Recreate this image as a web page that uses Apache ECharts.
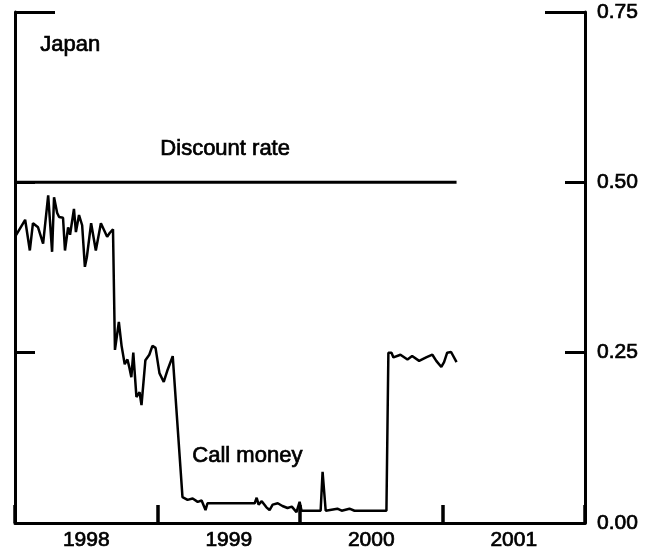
<!DOCTYPE html>
<html>
<head>
<meta charset="utf-8">
<script src="https://cdn.jsdelivr.net/npm/echarts@6/dist/echarts.min.js"></script>
<style>html,body{margin:0;padding:0;background:#fff}#c{width:660px;height:556px}</style>
</head>
<body>
<div id="c"></div>
<script>
const callDates = ['1998-01-01','1998-01-06','1998-01-27','1998-02-01','1998-02-08','1998-02-16','1998-03-01','1998-03-14','1998-03-27','1998-04-01','1998-04-06','1998-04-11','1998-04-19','1998-04-24','1998-05-04','1998-05-09','1998-05-17','1998-05-22','1998-06-01','1998-06-06','1998-06-14','1998-06-22','1998-06-29','1998-07-04','1998-07-15','1998-07-27','1998-08-09','1998-08-25','1998-09-01','1998-09-09','1998-09-14','1998-09-24','1998-10-01','1998-10-09','1998-10-16','1998-10-21','1998-10-26','1998-10-31','1998-11-08','1998-11-16','1998-11-21','1998-12-01','1998-12-11','1998-12-19','1998-12-27','1999-01-06','1999-01-17','1999-01-27','1999-02-09','1999-03-06','1999-03-19','1999-04-01','1999-04-14','1999-04-24','1999-05-04','1999-05-09','1999-09-07','1999-09-12','1999-09-17','1999-09-25','1999-10-07','1999-10-15','1999-10-23','1999-11-05','1999-11-17','1999-11-30','1999-12-11','1999-12-23','1999-12-31','2000-01-05','2000-02-23','2000-02-28','2000-03-07','2000-04-06','2000-04-17','2000-05-07','2000-05-20','2000-08-10','2000-08-15','2000-08-23','2000-08-28','2000-09-15','2000-10-03','2000-10-15','2000-11-02','2000-11-20','2000-12-06','2000-12-16','2000-12-29','2001-01-05','2001-01-13','2001-01-23','2001-02-06'];
const callMoney = [0.42,0.418,0.445,0.446,0.40,0.44,0.434,0.41,0.481,0.481,0.398,0.478,0.455,0.449,0.448,0.40,0.434,0.423,0.461,0.427,0.452,0.437,0.376,0.39,0.44,0.40,0.44,0.42,0.426,0.431,0.254,0.295,0.26,0.233,0.24,0.228,0.214,0.25,0.185,0.192,0.173,0.239,0.247,0.26,0.257,0.22,0.207,0.225,0.245,0.038,0.034,0.036,0.031,0.033,0.019,0.029,0.029,0.037,0.027,0.032,0.023,0.019,0.027,0.029,0.025,0.022,0.024,0.016,0.031,0.018,0.018,0.075,0.018,0.021,0.018,0.021,0.018,0.018,0.25,0.25,0.243,0.247,0.24,0.245,0.238,0.243,0.247,0.238,0.229,0.236,0.25,0.251,0.236];
const discountDates = ['1998-01-01','2001-02-06'];
const discountRate = [0.5, 0.5];
const yearLabels = ['1998','1999','2000','2001'];
const yTicks = [0, 0.25, 0.5, 0.75];

function toYear(s){
  const p = s.split('-').map(Number);
  const a = Date.UTC(p[0],0,1), b = Date.UTC(p[0]+1,0,1);
  return p[0] + (Date.UTC(p[0],p[1]-1,p[2]) - a)/(b - a);
}
const FONT = '"Liberation Sans", Arial, Helvetica, sans-serif';
const chart = echarts.init(document.getElementById('c'), null, {renderer:'canvas'});
const lineStyle = {color:'#000', width:3};
const xmin = 1998, xmax = 1998 + yearLabels.length;
const ymin = yTicks[0], ymax = yTicks[yTicks.length-1];
const heavy = {textBorderColor:'#000', textBorderWidth:0.7};
chart.setOption({
  animation:false,
  backgroundColor:'#fff',
  grid:{left:15, right:75, top:12, bottom:33, containLabel:false},
  xAxis:[
    {type:'value', min:xmin, max:xmax, interval:1, position:'bottom',
     axisLine:{show:true, lineStyle:lineStyle},
     axisTick:{show:true, inside:true, length:18, lineStyle:{color:'#000', width:3.5}},
     axisLabel:{show:false}, splitLine:{show:false}},
    {type:'value', min:xmin, max:xmax, interval:0.5, position:'bottom',
     axisLine:{show:false}, axisTick:{show:false}, splitLine:{show:false},
     axisLabel:Object.assign({show:true, margin:7, color:'#000', fontSize:21, fontFamily:FONT,
       formatter:function(v){ const f = v - Math.floor(v); return Math.abs(f-0.5)<1e-6 ? yearLabels[Math.floor(v)-1998] : ''; }}, heavy)}
  ],
  yAxis:[
    {type:'value', min:ymin, max:ymax, interval:0.25, position:'left',
     axisLine:{show:true, lineStyle:lineStyle},
     axisTick:{show:true, inside:true, length:20, lineStyle:{color:'#000', width:3}},
     axisLabel:{show:false}, splitLine:{show:false}},
    {type:'value', min:ymin, max:ymax, interval:0.25, position:'right',
     axisLine:{show:true, lineStyle:lineStyle},
     axisTick:{show:true, inside:true, length:20, lineStyle:{color:'#000', width:3}},
     axisLabel:Object.assign({show:true, margin:12, color:'#000', fontSize:21, fontFamily:FONT,
       formatter:function(v){ return v.toFixed(2); }}, heavy),
     splitLine:{show:false}},
    {type:'value', min:ymin, max:ymax, interval:0.75, position:'left',
     axisLine:{show:false}, axisLabel:{show:false}, splitLine:{show:false},
     axisTick:{show:true, inside:true, length:40, lineStyle:{color:'#000', width:3}}},
    {type:'value', min:ymin, max:ymax, interval:0.75, position:'right',
     axisLine:{show:false}, axisLabel:{show:false}, splitLine:{show:false},
     axisTick:{show:true, inside:true, length:40, lineStyle:{color:'#000', width:3}}}
  ],
  series:[
    {type:'line', name:'Discount rate', xAxisIndex:0, yAxisIndex:0, symbol:'none',
     lineStyle:{color:'#000', width:3}, data:discountDates.map((d,i)=>[toYear(d), discountRate[i]])},
    {type:'line', name:'Call money', xAxisIndex:0, yAxisIndex:0, symbol:'none',
     lineStyle:{color:'#000', width:2.5}, data:callDates.map((d,i)=>[toYear(d), callMoney[i]])}
  ],
  graphic:[
    {type:'text', left:40, top:34, style:Object.assign({text:'Japan', fill:'#000', font:'22px '+FONT}, {stroke:'#000', lineWidth:0.7})},
    {type:'text', left:160, top:138, style:Object.assign({text:'Discount rate', fill:'#000', font:'22px '+FONT}, {stroke:'#000', lineWidth:0.7})},
    {type:'text', left:192, top:445, style:Object.assign({text:'Call money', fill:'#000', font:'22px '+FONT}, {stroke:'#000', lineWidth:0.7})}
  ]
});
</script>
</body>
</html>
